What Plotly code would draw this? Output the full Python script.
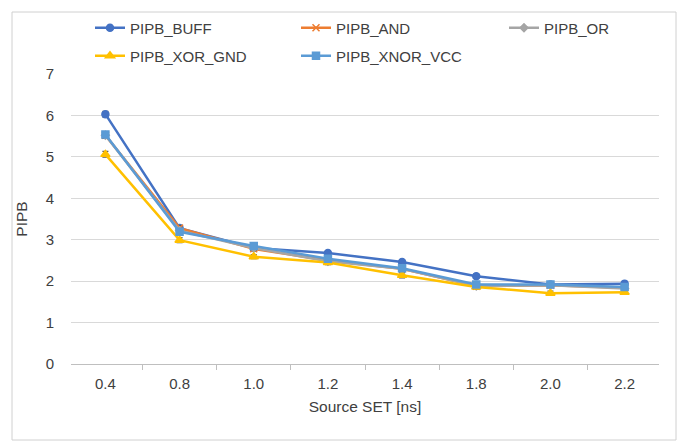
import plotly.graph_objects as go

categories = ["0.4", "0.8", "1.0", "1.2", "1.4", "1.8", "2.0", "2.2"]
buff = [6.03, 3.28, 2.80, 2.68, 2.46, 2.12, 1.92, 1.94]
and_ = [5.52, 3.28, 2.78, 2.50, 2.30, 1.88, 1.90, 1.84]
or_ = [5.52, 3.22, 2.80, 2.48, 2.30, 1.88, 1.90, 1.82]
xor_gnd = [5.06, 2.99, 2.59, 2.45, 2.14, 1.86, 1.71, 1.73]
xnor_vcc = [5.54, 3.19, 2.85, 2.54, 2.31, 1.92, 1.92, 1.86]
err = [0.07, 0.06, 0.05, 0.05, 0.06, 0.05, 0.05, 0.04]

names = ["PIPB_BUFF", "PIPB_AND", "PIPB_OR", "PIPB_XOR_GND", "PIPB_XNOR_VCC"]
series = [buff, and_, or_, xor_gnd, xnor_vcc]
colors = ["#4472C4", "#ED7D31", "#A5A5A5", "#FFC000", "#5B9BD5"]
symbols = ["circle", "x-thin-open", "diamond", "triangle-up", "square"]
sizes = [7, 7, 6, 8, 7]
legend_ids = ["legend", "legend2", "legend3", "legend4", "legend5"]
legend_px = [(90, 28), (296, 28), (504, 28), (90, 56), (296, 56)]

FONT = "Liberation Sans"
TXT = "#404040"
fig = go.Figure()
for n, s, c, sym, sz, lg in zip(names, series, colors, symbols, sizes, legend_ids):
    fig.add_trace(go.Scatter(
        x=categories, y=s, name=n, mode="lines+markers",
        line=dict(color=c, width=2.5),
        marker=dict(symbol=sym, size=sz, color=c, line=dict(color=c, width=1.5)),
        error_y=dict(type="data", array=err, color="#595959", thickness=1.2, width=3),
        legend=lg,
    ))

L, R, T, B = 71, 22, 74, 80
pw, ph = 681 - L - R, 444 - T - B
def px(x):
    return (x - L) / pw
def py(y):
    return (444 - B - y) / ph

legend_layout = {}
for lg, (lx, ly) in zip(legend_ids, legend_px):
    legend_layout[lg] = dict(x=px(lx), y=py(ly), xanchor="left", yanchor="middle",
                             orientation="h", font=dict(size=15, color=TXT),
                             bgcolor="rgba(0,0,0,0)")

fig.update_layout(
    width=681, height=444,
    margin=dict(l=L, r=R, t=T, b=B),
    paper_bgcolor="white", plot_bgcolor="white",
    font=dict(family=FONT, size=15, color=TXT),
    showlegend=True,
    xaxis=dict(type="category", showgrid=False, showline=True, linecolor="#BFBFBF", linewidth=1,
               ticks="outside", tickson="boundaries", ticklen=5, tickcolor="#BFBFBF",
               ticklabelstandoff=6,
               title=dict(text="Source SET [ns]", font=dict(size=15.5, color=TXT), standoff=10),
               tickfont=dict(size=15, color=TXT), zeroline=False),
    yaxis=dict(range=[0, 7], dtick=1, showgrid=True, gridcolor="#D9D9D9", gridwidth=1,
               showline=False, zeroline=False, ticks="", ticklabelstandoff=16,
               title=dict(text="PIPB", font=dict(size=15.5, color=TXT), standoff=14),
               tickfont=dict(size=15, color=TXT)),
    shapes=[dict(type="rect", xref="paper", yref="paper",
                 x0=px(12), x1=px(676), y0=py(440), y1=py(12),
                 line=dict(color="#D0D0D0", width=1), fillcolor="rgba(0,0,0,0)", layer="below")],
    **legend_layout,
)

fig.write_html("out.html")
